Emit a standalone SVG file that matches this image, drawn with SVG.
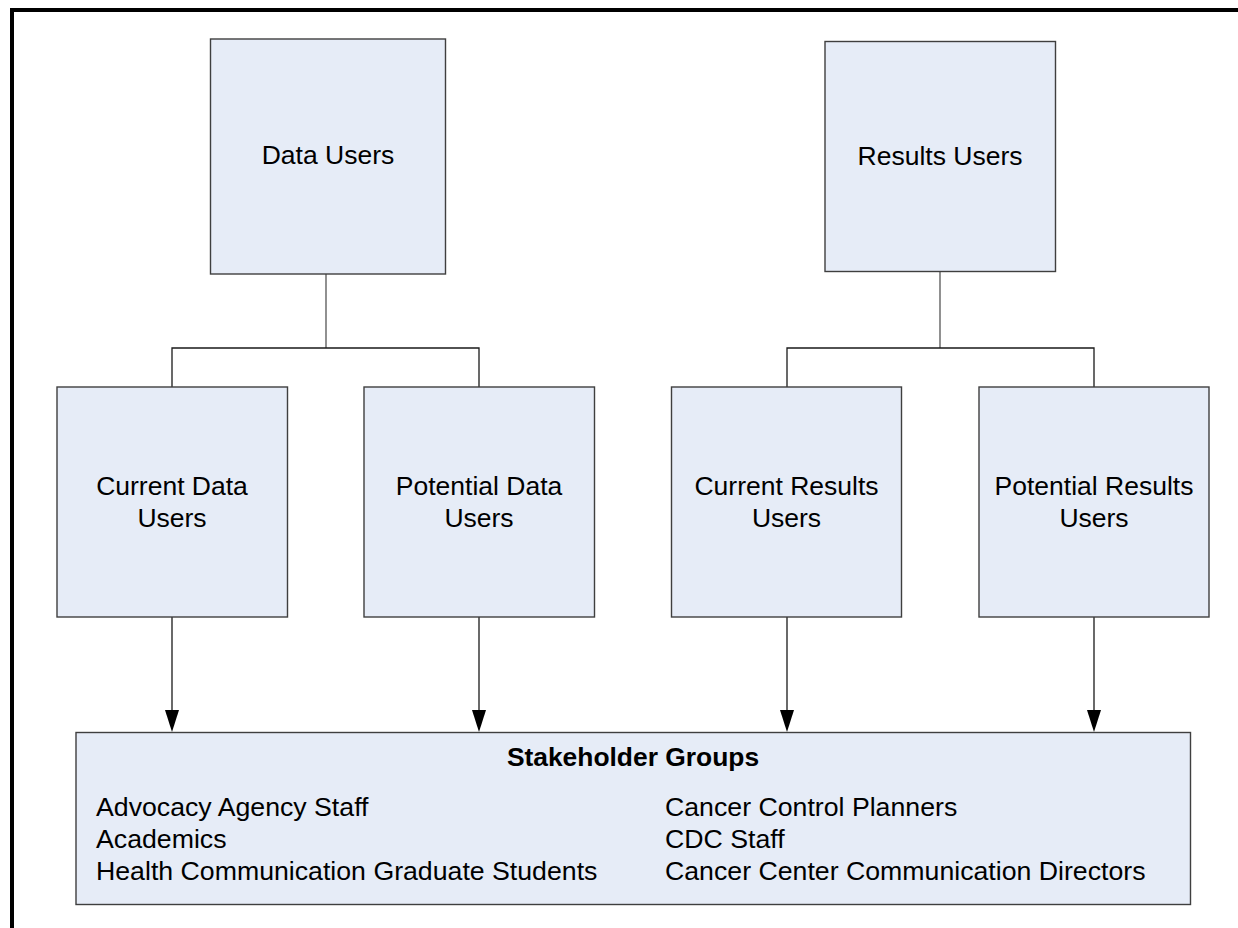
<svg xmlns="http://www.w3.org/2000/svg" width="1238" height="928" viewBox="0 0 1238 928">
<style>
.box{fill:#E6ECF7;stroke:#3F3F3F;stroke-width:1.4}
.lbl{font-family:"Liberation Sans",Arial,sans-serif;font-size:26.5px;fill:#000;text-anchor:middle}
.list{font-family:"Liberation Sans",Arial,sans-serif;font-size:26.7px;fill:#000}
.title{font-family:"Liberation Sans",Arial,sans-serif;font-size:26.4px;font-weight:bold;fill:#000;text-anchor:middle}
.conn{fill:none;stroke:#1a1a1a;stroke-width:1.3}
.trunk{fill:none;stroke:#555;stroke-width:1.3}
.head{fill:#000}
</style>
<rect x="0" y="0" width="1238" height="928" fill="#fff"/>
<path d="M12,928 V10 H1238" fill="none" stroke="#000" stroke-width="4"/>

<g id="connectors">
<path class="trunk" d="M326,274 V348"/>
<path class="conn" d="M172,387 V348 H479 V387"/>
<path class="trunk" d="M940,271 V348"/>
<path class="conn" d="M787,387 V348 H1094 V387"/>
<line x1="172" y1="617" x2="172" y2="710" class="conn"/>
<path class="head" d="M165,710 L179,710 L172,732 Z"/>
<line x1="479" y1="617" x2="479" y2="710" class="conn"/>
<path class="head" d="M472,710 L486,710 L479,732 Z"/>
<line x1="787" y1="617" x2="787" y2="710" class="conn"/>
<path class="head" d="M780,710 L794,710 L787,732 Z"/>
<line x1="1094" y1="617" x2="1094" y2="710" class="conn"/>
<path class="head" d="M1087,710 L1101,710 L1094,732 Z"/>
</g>

<g id="data-users">
<rect class="box" x="210.5" y="39" width="235" height="235"/>
<text class="lbl" x="328" y="164">Data Users</text>
</g>
<g id="results-users">
<rect class="box" x="825" y="41.5" width="230.5" height="230"/>
<text class="lbl" x="940" y="165">Results Users</text>
</g>
<g id="current-data-users">
<rect class="box" x="57" y="387" width="230.5" height="230"/>
<text class="lbl" x="172" y="495">Current Data</text>
<text class="lbl" x="172" y="527">Users</text>
</g>
<g id="potential-data-users">
<rect class="box" x="364" y="387" width="230.5" height="230"/>
<text class="lbl" x="479" y="495">Potential Data</text>
<text class="lbl" x="479" y="527">Users</text>
</g>
<g id="current-results-users">
<rect class="box" x="671.5" y="387" width="230" height="230"/>
<text class="lbl" x="786.5" y="495">Current Results</text>
<text class="lbl" x="786.5" y="527">Users</text>
</g>
<g id="potential-results-users">
<rect class="box" x="979" y="387" width="230" height="230"/>
<text class="lbl" x="1094" y="495">Potential Results</text>
<text class="lbl" x="1094" y="527">Users</text>
</g>
<g id="stakeholder-groups">
<rect class="box" x="76" y="732.5" width="1114.5" height="172"/>
<text class="title" x="633" y="766">Stakeholder Groups</text>
<text class="list" x="96" y="816">Advocacy Agency Staff</text>
<text class="list" x="96" y="848">Academics</text>
<text class="list" x="96" y="880">Health Communication Graduate Students</text>
<text class="list" x="665" y="816">Cancer Control Planners</text>
<text class="list" x="665" y="848">CDC Staff</text>
<text class="list" x="665" y="880">Cancer Center Communication Directors</text>
</g>
</svg>
